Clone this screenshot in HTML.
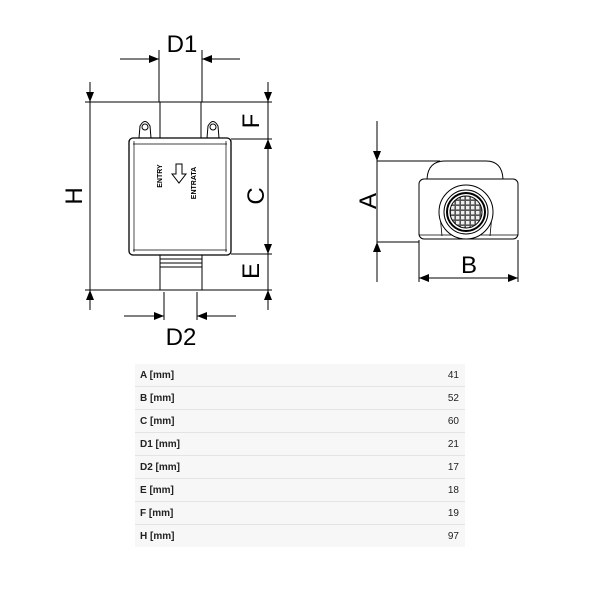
<!DOCTYPE html>
<html><head><style>
body{margin:0;background:#fff;width:600px;height:600px;overflow:hidden;font-family:"Liberation Sans",sans-serif}
svg{position:absolute;left:0;top:0}
.tbl{position:absolute;left:135px;top:364px;width:330px;background:#f7f7f7}
.r{height:22px;border-bottom:1px solid #e4e4e4;display:flex;justify-content:space-between;align-items:center;font-size:10px;color:#222;padding:0 6px 0 5px}
.r:last-child{border-bottom:none}
.r b{font-weight:bold}
</style></head><body>
<svg width="600" height="600" viewBox="0 0 600 600">
<defs>
<marker id="a" markerWidth="10" markerHeight="8" refX="10" refY="4" orient="auto" markerUnits="userSpaceOnUse"><path d="M0,0 L10,4 L0,8z" fill="#000"/></marker>
<pattern id="g" width="5" height="5" patternUnits="userSpaceOnUse"><rect width="5" height="5" fill="#555"/><rect x="1" y="1" width="3.4" height="3.4" fill="#eee"/></pattern>
</defs>
<g stroke="#000" stroke-width="1" fill="none">
<line x1="159" y1="50" x2="159" y2="102"/><line x1="202" y1="50" x2="202" y2="102"/>
<line x1="120" y1="59" x2="159" y2="59" marker-end="url(#a)"/><line x1="240" y1="59" x2="202" y2="59" marker-end="url(#a)"/>
<line x1="85" y1="102" x2="272" y2="102"/><line x1="85" y1="290" x2="272" y2="290"/>
<line x1="90" y1="82" x2="90" y2="310"/>
<line x1="90" y1="82" x2="90" y2="102" marker-end="url(#a)"/><line x1="90" y1="310" x2="90" y2="290" marker-end="url(#a)"/>
<line x1="268" y1="82" x2="268" y2="310"/>
<line x1="268" y1="82" x2="268" y2="102" marker-end="url(#a)"/><line x1="268" y1="310" x2="268" y2="290" marker-end="url(#a)"/>
<line x1="231" y1="139" x2="272" y2="139"/><line x1="231" y1="254" x2="272" y2="254"/>
<line x1="268" y1="160" x2="268" y2="139" marker-end="url(#a)"/><line x1="268" y1="233" x2="268" y2="254" marker-end="url(#a)"/>
<rect x="160" y="102" width="41" height="36"/>
<path d="M139,138 L140,126 Q145,117 150,126 L151,138"/><circle cx="145" cy="127" r="3"/>
<path d="M207,138 L208,126 Q213,117 218,126 L219,138"/><circle cx="213" cy="127" r="3"/>
<rect x="129" y="138" width="102" height="117" rx="4" stroke-width="1.3"/>
<line x1="133" y1="144" x2="227" y2="144" stroke-width="0.7"/>
<line x1="133" y1="250" x2="227" y2="250" stroke-width="0.7"/>
<line x1="134" y1="141" x2="134" y2="252" stroke-width="0.7"/>
<line x1="226" y1="141" x2="226" y2="252" stroke-width="0.7"/>
<path d="M176,164 h6 v10 h4 l-7,9 l-7,-9 h4z"/>
<rect x="160" y="255" width="42" height="35"/>
<line x1="160" y1="259" x2="202" y2="259"/><line x1="160" y1="263" x2="202" y2="263"/><line x1="160" y1="267" x2="202" y2="267"/>
<line x1="164" y1="292" x2="164" y2="320"/><line x1="197" y1="292" x2="197" y2="320"/>
<line x1="124" y1="316" x2="164" y2="316" marker-end="url(#a)"/><line x1="236" y1="316" x2="197" y2="316" marker-end="url(#a)"/>
<line x1="377" y1="121" x2="377" y2="282"/>
<line x1="377" y1="141" x2="377" y2="161" marker-end="url(#a)"/><line x1="377" y1="262" x2="377" y2="242" marker-end="url(#a)"/>
<line x1="377" y1="161" x2="440" y2="161"/><line x1="377" y1="242" x2="419" y2="242"/>
<path d="M427,179 Q428,161 445,161 L486,161 Q502,161 503,179"/>
<rect x="419" y="179" width="99" height="60" rx="5"/>
<line x1="419" y1="235" x2="518" y2="235" stroke-width="0.7"/>
<path d="M442,236 L440,215 M490,236 L492,215" stroke-width="0.8"/>
<circle cx="466" cy="212" r="27" fill="#fff"/>
<circle cx="466" cy="212" r="22"/>
<circle cx="466" cy="212" r="19" stroke-width="2"/>
<circle cx="466" cy="212" r="16" fill="url(#g)"/>
<line x1="419" y1="240" x2="419" y2="282"/><line x1="518" y1="240" x2="518" y2="282"/>
<line x1="419" y1="278" x2="518" y2="278"/>
<line x1="440" y1="278" x2="419" y2="278" marker-end="url(#a)"/><line x1="497" y1="278" x2="518" y2="278" marker-end="url(#a)"/>
</g>
<g font-family="Liberation Sans, sans-serif" fill="#000" text-anchor="middle">
<text x="182" y="52" font-size="24">D1</text>
<text x="181" y="345" font-size="24">D2</text>
<text x="469" y="273" font-size="24">B</text>
<text transform="translate(82,196) rotate(-90)" font-size="24">H</text>
<text transform="translate(259,121) rotate(-90)" font-size="24">F</text>
<text transform="translate(264,196) rotate(-90)" font-size="24">C</text>
<text transform="translate(259,271) rotate(-90)" font-size="24">E</text>
<text transform="translate(376,201) rotate(-90)" font-size="24">A</text>
<text transform="translate(162,176) rotate(-90)" font-size="7" font-weight="bold">ENTRY</text>
<text transform="translate(196,183) rotate(-90)" font-size="7" font-weight="bold">ENTRATA</text>
</g>
</svg>
<div class="tbl">
<div class="r"><b>A [mm]</b><span>41</span></div>
<div class="r"><b>B [mm]</b><span>52</span></div>
<div class="r"><b>C [mm]</b><span>60</span></div>
<div class="r"><b>D1 [mm]</b><span>21</span></div>
<div class="r"><b>D2 [mm]</b><span>17</span></div>
<div class="r"><b>E [mm]</b><span>18</span></div>
<div class="r"><b>F [mm]</b><span>19</span></div>
<div class="r"><b>H [mm]</b><span>97</span></div>
</div>
</body></html>
